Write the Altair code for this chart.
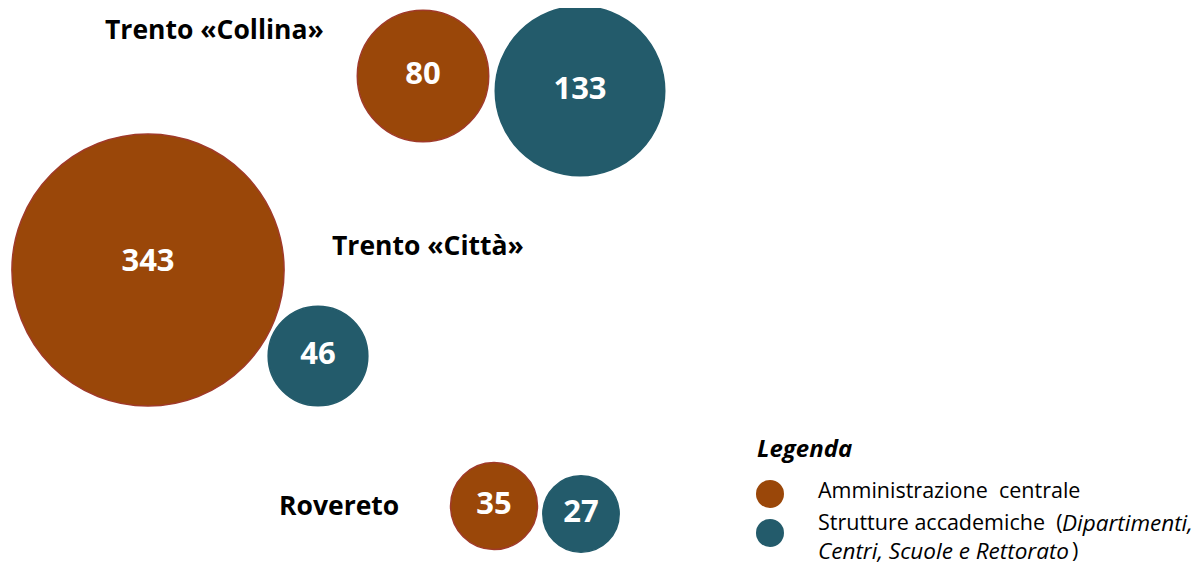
import altair as alt
import pandas as pd

# ---- data ----
sites = ["Trento «Collina»", "Trento «Città»", "Rovereto"]
groups = ["Amministrazione centrale", "Strutture accademiche"]
admin_values = [80, 343, 35]
strut_values = [133, 46, 27]

# layout coordinates of the bubbles (arbitrary layout units)
admin_x = [415, 140, 486]
admin_y = [68, 262, 498]
strut_x = [572, 310, 573]
strut_y = [83, 348, 506]
admin_label_y = [67, 254, 497]
strut_label_y = [82, 347, 505]

site_x = [97, 324, 271]
site_y = [23, 239, 499]

legend_title = "Legenda"
NB = "\u00a0"
legend_texts = ["Amministrazione" + NB + " centrale", "Strutture accademiche" + NB + " (", "Dipartimenti,",
                "Centri, Scuole e Rettorato", ")"]
legend_text_x = [810, 810, 1054, 810, 1064]
legend_text_y = [484, 516, 516, 544, 544]
legend_text_style = ["normal", "normal", "italic", "italic", "normal"]
legend_dot_x = [762, 762]
legend_dot_y = [486, 525]

colors = ["#9A4709", "#235B6B"]
strokes = ["#A03A2A", "#235B6B"]

W, H = 1184, 560

rows = []
for i, s in enumerate(sites):
    rows.append({"site": s, "group": groups[0], "value": admin_values[i],
                 "x": admin_x[i], "y": admin_y[i], "ly": admin_label_y[i]})
    rows.append({"site": s, "group": groups[1], "value": strut_values[i],
                 "x": strut_x[i], "y": strut_y[i], "ly": strut_label_y[i]})
bubbles = pd.DataFrame(rows)

sites_df = pd.DataFrame({"site": sites, "x": site_x, "y": site_y})
leg_dots = pd.DataFrame({"group": groups, "x": legend_dot_x, "y": legend_dot_y})
leg_text = pd.DataFrame({"text": legend_texts, "x": legend_text_x, "y": legend_text_y,
                         "style": legend_text_style})
leg_title = pd.DataFrame({"text": [legend_title], "x": [749], "y": [442]})

xs = alt.Scale(domain=[0, W], nice=False, zero=False)
ys = alt.Scale(domain=[H, 0], nice=False, zero=False)


def X(f="x"):
    return alt.X(f"{f}:Q", scale=xs, axis=None)


def Y(f="y"):
    return alt.Y(f"{f}:Q", scale=ys, axis=None)


color = alt.Color("group:N", scale=alt.Scale(domain=groups, range=colors), legend=None)
stroke = alt.Stroke("group:N", scale=alt.Scale(domain=groups, range=strokes), legend=None)

circles = alt.Chart(bubbles).mark_circle(opacity=1, strokeWidth=1.5).encode(
    x=X(), y=Y(), color=color, stroke=stroke,
    size=alt.Size("value:Q", scale=alt.Scale(domain=[0, 343], range=[0, 4 * 54 * 343]), legend=None),
)

numbers = alt.Chart(bubbles).mark_text(
    font="Open Sans", fontWeight="bold", fontSize=31, color="white", baseline="middle", align="center"
).encode(x=X(), y=Y("ly"), text="value:Q")

site_labels = alt.Chart(sites_df).mark_text(
    font="Open Sans", fontWeight="bold", fontSize=26.5, color="black", baseline="middle", align="left"
).encode(x=X(), y=Y(), text="site:N")

dots = alt.Chart(leg_dots).mark_circle(opacity=1, size=784).encode(
    x=X(), y=Y(), color=color
)

title = alt.Chart(leg_title).mark_text(
    font="Open Sans", fontWeight="bold", fontStyle="italic", fontSize=24, color="black",
    baseline="middle", align="left"
).encode(x=X(), y=Y(), text="text:N")

leg_normal = alt.Chart(leg_text).transform_filter(alt.datum.style == "normal").mark_text(
    font="Open Sans", fontSize=21.5, color="black", baseline="middle", align="left"
).encode(x=X(), y=Y(), text="text:N")

leg_italic = alt.Chart(leg_text).transform_filter(alt.datum.style == "italic").mark_text(
    font="Open Sans", fontStyle="italic", fontSize=22.5, color="black", baseline="middle", align="left"
).encode(x=X(), y=Y(), text="text:N")

chart = alt.layer(circles, numbers, site_labels, dots, title, leg_normal, leg_italic).properties(
    width=W, height=H, padding=0, background="white",
    autosize=alt.AutoSizeParams(type="none"),
).configure_view(stroke=None)

chart.save("out.html", embed_options={"renderer": "svg", "actions": False})
